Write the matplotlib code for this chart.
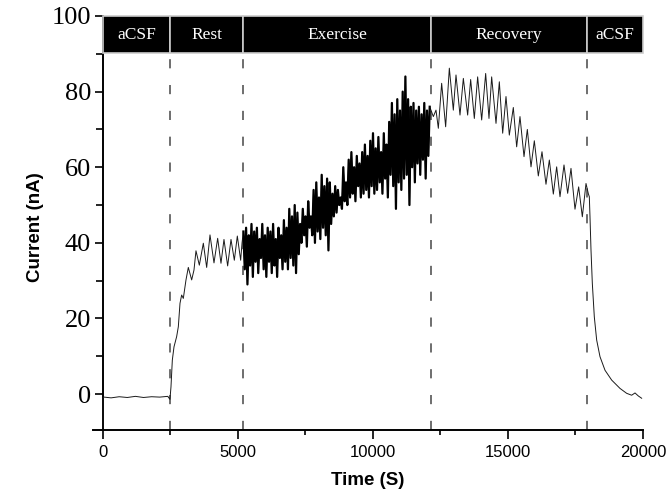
import numpy as np
import matplotlib
matplotlib.use("Agg")
import matplotlib.pyplot as plt
from matplotlib.ticker import MultipleLocator

# ---------------- data ----------------
# baseline (aCSF) + rise + rest oscillations
t_pre = [0, 0, 40, 300, 600, 900, 1200, 1500, 1800, 2100, 2400, 2480,
         2518, 2568, 2630, 2728, 2790, 2852, 2913, 2975, 3074, 3160, 3284, 3370,
         3444, 3568, 3716, 3840, 3963, 4111, 4247, 4370, 4481, 4617, 4741, 4864,
         4975, 5099, 5150]
v_pre = [-9.0, -1.0, -0.8, -1.0, -0.7, -0.9, -0.6, -0.9, -0.7, -0.8, -0.6, -1.4,
         1.9, 9.0, 12.5, 15.2, 17.8, 24.0, 26.2, 25.3, 30.2, 33.5, 30.2, 32.8,
         37.9, 34.1, 39.9, 33.5, 42.1, 34.7, 41.2, 34.6, 40.9, 33.9, 40.9, 35.4,
         41.8, 35.4, 40.0]

# exercise: dense fluctuation, sampled every 50 s from 5200 s
t_ex_start, t_ex_step = 5200, 50
v_ex = [43, 33, 44, 29, 42, 34, 45, 31, 43, 35,
        44, 32, 41, 36, 45, 33, 42, 31, 44, 35,
        43, 32, 45, 34, 41, 31, 44, 36, 42, 33,
        46, 35, 44, 33, 49, 36, 47, 34, 50, 32,
        48, 37, 45, 40, 49, 42, 47, 39, 51, 44,
        47, 42, 54, 40, 56, 43, 52, 41, 58, 44,
        55, 42, 57, 38, 56, 45, 53, 47, 55, 48,
        54, 50, 52, 49, 60, 51, 56, 50, 62, 52,
        64, 53, 60, 51, 63, 55, 61, 52, 64, 53,
        66, 54, 63, 52, 67, 55, 69, 53, 65, 54,
        68, 56, 64, 53, 69, 57, 66, 52, 72, 58,
        77, 55, 74, 49, 78, 56, 75, 54, 80, 57,
        84, 58, 78, 50, 76, 60, 77, 56, 75, 61,
        76, 58, 74, 62, 77, 57, 75, 63, 76]

# recovery oscillations + washout decay
t_post = [12235, 12333, 12420, 12543, 12691, 12827, 12975, 13074, 13222, 13346,
          13506, 13617, 13753, 13876, 14025, 14173, 14296, 14395, 14556, 14679,
          14803, 14926, 15049, 15197, 15321, 15444, 15593, 15716, 15852, 15975,
          16123, 16259, 16407, 16531, 16679, 16802, 16926, 17074, 17210, 17333,
          17481, 17617, 17753, 17889, 17975, 18012, 18037, 18074, 18123, 18197,
          18284, 18407, 18593, 18840, 19148, 19395, 19580, 19704, 19827, 19950]
v_post = [73.4, 75.1, 70.3, 82.2, 70.7, 86.2, 75.1, 84.4, 73.8, 83.5,
          73.8, 83.2, 72.9, 83.9, 72.5, 84.8, 72.9, 83.9, 71.6, 82.6,
          69.0, 78.7, 68.5, 75.8, 65.4, 73.4, 62.8, 70.0, 60.1, 67.0,
          57.7, 64.1, 55.5, 61.9, 52.9, 60.1, 52.2, 60.6, 53.1, 59.7,
          48.9, 54.8, 46.9, 55.7, 53.0, 52.2, 46.9, 38.1, 29.3, 20.4,
          14.3, 9.9, 6.3, 3.7, 1.5, 0.2, -0.3, 0.3, -0.5, -1.1]

phase_names = ["aCSF", "Rest", "Exercise", "Recovery", "aCSF"]
phase_edges = [0, 2480, 5200, 12140, 17920, 20000]

x_ticks = [0, 5000, 10000, 15000, 20000]
y_ticks = [0, 20, 40, 60, 80, 100]

# ---------------- assemble ----------------
t_ex = list(range(t_ex_start, t_ex_start + t_ex_step * len(v_ex), t_ex_step))
t_all = np.array(t_pre + t_ex + t_post, dtype=float)
v_all = np.array(v_pre + v_ex + v_post, dtype=float)

# ---------------- figure ----------------
fig = plt.figure(figsize=(6.67, 5.0), dpi=100)
ax = fig.add_axes([93/667, 70/500, 550/667, 414/500])

ax.plot(t_all, v_all, color="#1a1a1a", lw=0.7, zorder=3)
ax.plot(t_ex, v_ex, color="black", lw=1.6, zorder=3)

ax.set_xlim(-370, 20000)
ax.set_ylim(-9.5, 100)

# phase divider dashed lines
for xe in phase_edges[1:-1]:
    ax.plot([xe, xe], [-9.5, 90.3], color="#555555", lw=1.2,
            dashes=(5.5, 10), zorder=2)

# top phase bar
for i, name in enumerate(phase_names):
    x0, x1 = phase_edges[i], phase_edges[i + 1]
    ax.add_patch(plt.Rectangle((x0, 90.3), x1 - x0, 9.7, facecolor="black",
                               edgecolor="#cccccc", lw=1.2, zorder=4,
                               clip_on=False))
    ax.text((x0 + x1) / 2, 95.1, name, color="white", ha="center",
            va="center", fontsize=12.5, family="Liberation Serif", zorder=5)

# spines
for s in ["top", "right"]:
    ax.spines[s].set_visible(False)
ax.spines["left"].set_position(("data", 0))
ax.spines["left"].set_linewidth(1.4)
ax.spines["bottom"].set_linewidth(1.4)
ax.spines["left"].set_bounds(-9.5, 100)

ax.set_xticks(x_ticks)
ax.xaxis.set_minor_locator(MultipleLocator(2500))
ax.set_yticks(y_ticks)
ax.yaxis.set_minor_locator(MultipleLocator(10))

ax.tick_params(axis="x", which="major", direction="out", length=6.5,
               width=1.2, pad=4)
ax.tick_params(axis="x", which="minor", direction="out", length=3.8, width=1.2)
ax.tick_params(axis="y", which="major", direction="out", length=5.5,
               width=1.2, pad=3)
ax.tick_params(axis="y", which="minor", direction="out", length=5, width=1.2)

for lab in ax.get_xticklabels():
    lab.set_fontfamily("Liberation Sans")
    lab.set_fontsize(12)
for lab in ax.get_yticklabels():
    lab.set_fontfamily("Liberation Serif")
    lab.set_fontsize(19)

ax.set_xlabel("Time (S)", fontsize=13.5, fontweight="bold",
              family="Liberation Sans", labelpad=9)
ax.set_ylabel("Current (nA)", fontsize=13.5, fontweight="bold",
              family="Liberation Sans")
ax.yaxis.set_label_coords(-0.09, 0.49)

fig.savefig("out.png", dpi=100)
